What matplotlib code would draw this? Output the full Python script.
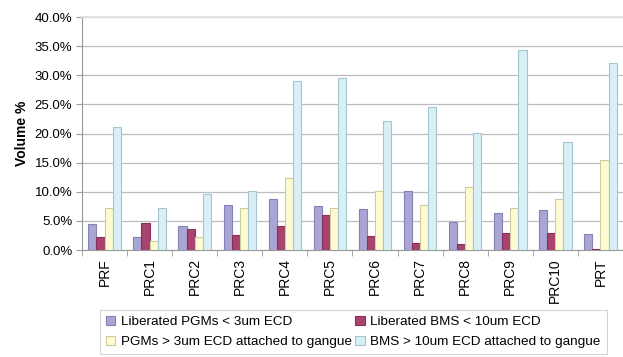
import matplotlib
matplotlib.use("Agg")
import matplotlib.pyplot as plt
import numpy as np
from matplotlib.ticker import FuncFormatter, MultipleLocator

plt.rcParams['font.family'] = ['Liberation Sans', 'DejaVu Sans']

categories = ['PRF', 'PRC1', 'PRC2', 'PRC3', 'PRC4', 'PRC5', 'PRC6', 'PRC7',
              'PRC8', 'PRC9', 'PRC10', 'PRT']
lib_pgm = [4.4, 2.2, 4.2, 7.7, 8.7, 7.5, 7.0, 10.1, 4.8, 6.4, 6.8, 2.8]
lib_bms = [2.2, 4.6, 3.6, 2.6, 4.2, 6.0, 2.4, 1.2, 1.0, 3.0, 3.0, 0.2]
pgm_gangue = [7.3, 1.6, 2.2, 7.3, 12.4, 7.3, 10.1, 7.8, 10.9, 7.3, 8.7, 15.4]
bms_gangue = [21.1, 7.2, 9.7, 10.1, 29.1, 29.5, 22.1, 24.6, 20.1, 34.3, 18.5, 32.2]

series = [
    ('Liberated PGMs < 3um ECD', lib_pgm, '#A9A6D6', '#8582B5'),
    ('Liberated BMS < 10um ECD', lib_bms, '#A8426F', '#8A3058'),
    ('PGMs > 3um ECD attached to gangue', pgm_gangue, '#FEFAD2', '#CFCB9E'),
    ('BMS > 10um ECD attached to gangue', bms_gangue, '#D7EFF5', '#A6C6CE'),
]

fig = plt.figure(figsize=(6.23, 3.57), dpi=100)
ax = fig.add_axes([0.1316, 0.2997, 0.8684, 0.6523])

x = np.arange(len(categories))
w = 0.18
handles = []
for i, (name, vals, fc, ec) in enumerate(series):
    h = ax.bar(x + (i - 1.5) * w, vals, width=w, color=fc, edgecolor=ec,
               linewidth=0.8, label=name, zorder=3)
    handles.append(h)

ax.set_ylim(0, 40)
ax.set_xlim(-0.5, 11.35)
ax.yaxis.set_major_locator(MultipleLocator(5))
ax.yaxis.set_major_formatter(FuncFormatter(lambda v, p: '%.1f%%' % v))
ax.grid(axis='y', color='#BDBDBD', linewidth=0.9, zorder=0)

ax.set_xticks(x)
ax.set_xticklabels(categories, rotation=90, fontsize=10)
ax.set_xticks(np.arange(-0.5, 12, 1), minor=True)
ax.tick_params(axis='x', which='major', length=0, pad=6)
ax.tick_params(axis='x', which='minor', length=4, color='#999999', direction='out')
ax.tick_params(axis='y', labelsize=9.5, length=4, color='#999999', pad=3)

ax.spines['right'].set_visible(False)
ax.spines['top'].set_color('#E0E0E0')
ax.spines['top'].set_linewidth(1.5)
ax.spines['left'].set_color('#999999')
ax.spines['bottom'].set_color('#999999')

ax.set_ylabel('Volume %', fontsize=10, fontweight='bold', labelpad=4)

# row-wise legend order like the original
order = [0, 2, 1, 3]
leg = fig.legend(handles=[handles[k] for k in order], loc='upper left',
                 bbox_to_anchor=(0.16, 0.132),
                 ncol=2, fontsize=9.7, frameon=True, fancybox=False,
                 handlelength=0.7, handleheight=0.7, handletextpad=0.4,
                 columnspacing=0.3, borderpad=0.45, labelspacing=0.55,
                 borderaxespad=0)
leg.get_frame().set_edgecolor('#CCCCCC')
leg.get_frame().set_linewidth(0.8)

fig.savefig('out.png', dpi=100)
